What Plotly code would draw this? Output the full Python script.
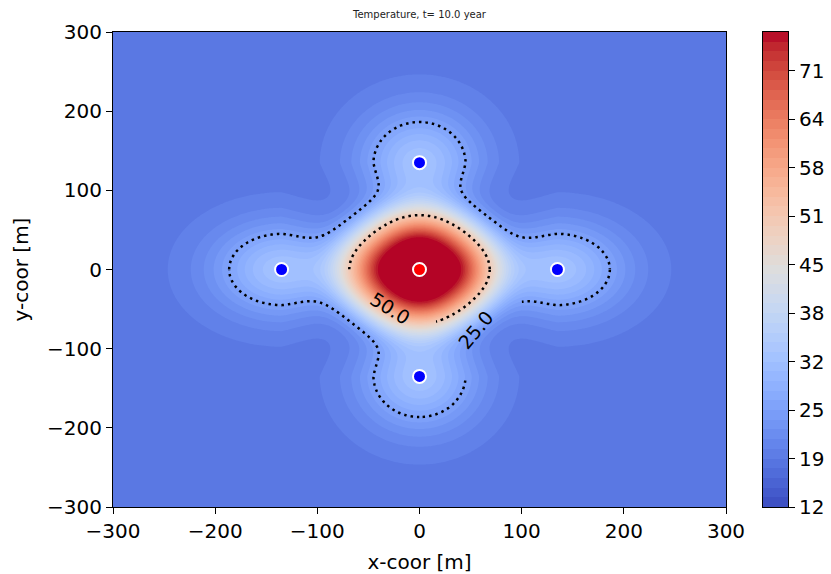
import numpy as np
import plotly.graph_objects as go

# ---------------- data ----------------
well_x = [0, -135, 135, 0, 0]
well_y = [0, 0, 0, 135, -135]
well_color = ["#ff0000", "#0000ff", "#0000ff", "#0000ff", "#0000ff"]

T_background = 17.9        # far-field temperature
T_injection = 76.2         # temperature at the injection well (max)
plateau_radius_axis = 41.0   # end of the hot plateau toward the wells [m]
plateau_radius_diag = 39.0   # end of the hot plateau on diagonals [m]
front_foot_axis = 96.0       # where the thermal front reaches background (axes)
front_foot_diag = 94.0       # where the thermal front reaches background (diagonals)
shoulder_soft = 2.0
foot_soft = 9.0
lobe_amplitude = 13.5      # warm lobe around each production well
lobe_spread_out = 64.0
lobe_spread_in = 70.0
lobe_spread_side = 56.0
lobe_side_taper = 0.2

level_min = 12.0
level_max = 76.2
n_levels = 50
cbar_tick_labels = ["12", "19", "25", "32", "38", "45", "51", "58", "64", "71"]
axis_ticks = [-300, -200, -100, 0, 100, 200, 300]
axis_tick_labels = ["\u2212300", "\u2212200", "\u2212100", "0", "100", "200", "300"]
line_levels = [25.0, 50.0]
label_text = ["25.0", "50.0"]

# pieces of the domain where the labelled contour lines are drawn (gaps = label places)
line_pieces = {
    50.0: [((-300, 300), (0, 300)), ((16, 300), (-300, 0))],
    25.0: [((-300, 300), (0, 300)), ((-300, 0), (-300, 0)),
           ((100, 300), (-300, 0)), ((0, 300), (-300, -140))],
}

# ---------------- temperature field ----------------
def softplus(v):
    return np.logaddexp(0.0, v)

grid = np.arange(-300, 301, 2.0)
X, Y = np.meshgrid(grid, grid)
R = np.hypot(X, Y)
c4 = np.cos(4 * np.arctan2(Y, X))
R1 = 0.5 * (plateau_radius_axis + plateau_radius_diag) + 0.5 * (plateau_radius_axis - plateau_radius_diag) * c4
R2 = 0.5 * (front_foot_axis + front_foot_diag) + 0.5 * (front_foot_axis - front_foot_diag) * c4
ramp = shoulder_soft * softplus((R - R1) / shoulder_soft) - foot_soft * softplus((R - R2) / foot_soft)
fc = np.clip(1.0 - ramp / (R2 - R1), 0.0, 1.0)

lobes = np.zeros_like(R)
for wx, wy in zip(well_x[1:], well_y[1:]):
    L = np.hypot(wx, wy)
    ux, uy = wx / L, wy / L
    dx, dy = X - wx, Y - wy
    par = dx * ux + dy * uy
    perp = -dx * uy + dy * ux
    sp = np.where(par > 0, lobe_spread_out, lobe_spread_in)
    ss = np.maximum(lobe_spread_side + lobe_side_taper * np.minimum(par, 0), 20.0)
    lobes = lobes + lobe_amplitude * np.exp(-(par / sp) ** 2 - (perp / ss) ** 2)
T = T_background + (T_injection - T_background) * fc + (1.0 - fc) * lobes
T = np.round(np.minimum(T, T_injection), 3)

levels = np.linspace(level_min, level_max, n_levels)
step = levels[1] - levels[0]

coolwarm_rgb = [
    (59, 76, 192), (68, 90, 204), (77, 104, 215), (87, 117, 225), (98, 130, 234),
    (108, 142, 241), (119, 154, 247), (130, 165, 251), (141, 176, 254), (152, 185, 255),
    (163, 194, 255), (174, 201, 253), (184, 208, 249), (194, 213, 244), (204, 217, 238),
    (213, 219, 230), (221, 221, 221), (229, 216, 209), (236, 211, 197), (241, 204, 185),
    (245, 196, 173), (247, 187, 160), (247, 177, 148), (247, 166, 135), (244, 154, 123),
    (241, 141, 111), (236, 127, 99), (229, 112, 88), (222, 96, 77), (213, 80, 66),
    (203, 62, 56), (192, 40, 47), (180, 4, 38)]
colorscale = [[i / (len(coolwarm_rgb) - 1), "rgb(%d,%d,%d)" % c] for i, c in enumerate(coolwarm_rgb)]

# ---------------- layout geometry ----------------
W, H = 831, 574
ml, mr, mt, mb = 113, 20, 32, 67
pw = W - ml - mr
main_dom = [0, (726 - ml) / pw]
cb_dom = [(763 - ml) / pw, (788 - ml) / pw]

fig = go.Figure()

fig.add_trace(go.Contour(
    x=grid, y=grid, z=T, autocontour=False,
    contours=dict(start=levels[0], end=levels[-2], size=step, coloring="fill", showlines=False),
    colorscale=colorscale, line=dict(width=0), showscale=False, hoverinfo="skip",
    xaxis="x", yaxis="y"))

for lev in line_levels:
    for (xr, yr) in line_pieces[lev]:
        ix = (grid >= xr[0]) & (grid <= xr[1])
        iy = (grid >= yr[0]) & (grid <= yr[1])
        fig.add_trace(go.Contour(
            x=grid[ix], y=grid[iy], z=T[np.ix_(iy, ix)], autocontour=False,
            contours=dict(start=lev, end=lev + 0.5, size=1.0, coloring="none"),
            line=dict(color="black", width=2.5, dash="2.5px,4px"),
            showscale=False, hoverinfo="skip", xaxis="x", yaxis="y"))

fig.add_trace(go.Scatter(
    x=well_x, y=well_y, mode="markers",
    marker=dict(color=well_color, size=13, line=dict(color="white", width=2)),
    hoverinfo="skip", showlegend=False, xaxis="x", yaxis="y"))

# colorbar drawn as a heatmap on its own axes
mids = (levels[:-1] + levels[1:]) / 2
fig.add_trace(go.Heatmap(
    x=[0, 1], y=levels, z=[[m] for m in mids], zmin=level_min, zmax=level_max,
    colorscale=colorscale, showscale=False, hoverinfo="skip", xaxis="x2", yaxis="y2"))

tick_font = dict(family="DejaVu Sans", size=20, color="black")
fig.update_layout(
    width=W, height=H, margin=dict(l=ml, r=mr, t=mt, b=mb, autoexpand=False),
    paper_bgcolor="white", plot_bgcolor="white", showlegend=False,
    font=dict(family="DejaVu Sans", color="black"),
    xaxis=dict(domain=main_dom, range=[-300, 300], tickvals=axis_ticks, ticktext=axis_tick_labels,
               showline=True, mirror=True, linecolor="black", linewidth=1.2,
               ticks="outside", ticklen=6, tickwidth=1.2, tickcolor="black",
               showgrid=False, zeroline=False, tickfont=tick_font, automargin=False,
               title=dict(text="x-coor [m]", font=tick_font, standoff=13)),
    yaxis=dict(domain=[0, 1], range=[-300, 300], tickvals=axis_ticks, ticktext=axis_tick_labels,
               showline=True, mirror=True, linecolor="black", linewidth=1.2,
               ticks="outside", ticklen=6, tickwidth=1.2, tickcolor="black",
               showgrid=False, zeroline=False, tickfont=tick_font, automargin=False,
               title=dict(text="y-coor [m]", font=tick_font, standoff=12)),
    xaxis2=dict(domain=cb_dom, range=[0, 1], anchor="y2", showticklabels=False, ticks="",
                showline=True, mirror=True, linecolor="black", linewidth=1.2,
                showgrid=False, zeroline=False, fixedrange=True, automargin=False),
    yaxis2=dict(domain=[0, 1], range=[level_min, level_max], anchor="x2", side="right",
                tickvals=list(levels[::5]), ticktext=cbar_tick_labels,
                showline=True, mirror=True, linecolor="black", linewidth=1.2,
                ticks="outside", ticklen=6, tickwidth=1.2, tickcolor="black",
                showgrid=False, zeroline=False, tickfont=tick_font, fixedrange=True,
                automargin=False),
)

fig.add_annotation(text="Temperature, t= 10.0 year", xref="paper", yref="paper",
                   x=(main_dom[0] + main_dom[1]) / 2, y=1 + (mt - 14) / (H - mt - mb),
                   xanchor="center", yanchor="middle", showarrow=False,
                   font=dict(family="DejaVu Sans", size=10, color="#222222"))

label_x = [55, -29]
label_y = [-77, -49]
label_angle = [-50, 32]
for t, lx, ly, la in zip(label_text, label_x, label_y, label_angle):
    fig.add_annotation(text=t, x=lx, y=ly, xref="x", yref="y", showarrow=False,
                       textangle=la, font=dict(family="DejaVu Sans", size=19, color="black"))

fig.write_html("out.html", config={"displayModeBar": False},
               post_script="document.body.style.margin='0px';")
